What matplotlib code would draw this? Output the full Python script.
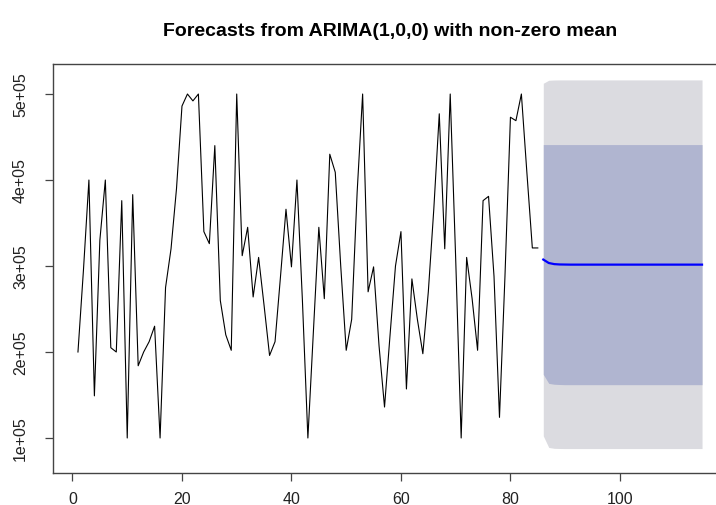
import numpy as np
import matplotlib.pyplot as plt

plt.rcParams['font.family'] = ['Liberation Sans', 'DejaVu Sans']

# observed series (t = 1..85)
series = [200000, 295000, 400000, 149000, 330000, 400000, 205000, 200000, 376000, 100000,
          383000, 184000, 200000, 212000, 230000, 100000, 275000, 320000, 390000, 486000,
          500000, 492000, 500000, 340000, 326000, 440000, 260000, 220000, 202000, 500000,
          312000, 345000, 264000, 310000, 254000, 196000, 212000, 288000, 366000, 299000,
          400000, 260000, 100000, 223000, 345000, 262000, 430000, 409000, 300000, 202000,
          238000, 386000, 500000, 270000, 299000, 207000, 136000, 219000, 300000, 340000,
          157000, 285000, 238000, 198000, 270000, 366000, 477000, 320000, 500000, 308000,
          100000, 310000, 262000, 202000, 376000, 381000, 288000, 124000, 288000, 473000,
          469000, 500000, 409000, 321000, 321000]

# forecast, h = 1..30 (t = 86..115)
fc_mean = [307500, 303500, 302200, 301800, 301700, 301600, 301600, 301600, 301600, 301600,
           301600, 301600, 301600, 301600, 301600, 301600, 301600, 301600, 301600, 301600,
           301600, 301600, 301600, 301600, 301600, 301600, 301600, 301600, 301600, 301600]
lo80 = [174000, 163500, 162500, 162200, 162000, 162000, 162000, 162000, 162000, 162000,
        162000, 162000, 162000, 162000, 162000, 162000, 162000, 162000, 162000, 162000,
        162000, 162000, 162000, 162000, 162000, 162000, 162000, 162000, 162000, 162000]
hi80 = [441200, 441200, 441200, 441200, 441200, 441200, 441200, 441200, 441200, 441200,
        441200, 441200, 441200, 441200, 441200, 441200, 441200, 441200, 441200, 441200,
        441200, 441200, 441200, 441200, 441200, 441200, 441200, 441200, 441200, 441200]
lo95 = [102500, 89000, 88000, 87800, 87700, 87700, 87700, 87700, 87700, 87700,
        87700, 87700, 87700, 87700, 87700, 87700, 87700, 87700, 87700, 87700,
        87700, 87700, 87700, 87700, 87700, 87700, 87700, 87700, 87700, 87700]
hi95 = [512500, 516000, 516300, 516400, 516400, 516400, 516400, 516400, 516400, 516400,
        516400, 516400, 516400, 516400, 516400, 516400, 516400, 516400, 516400, 516400,
        516400, 516400, 516400, 516400, 516400, 516400, 516400, 516400, 516400, 516400]

t_obs = np.arange(1, len(series) + 1)
t_fc = np.arange(len(series) + 1, len(series) + 1 + len(fc_mean))

fig = plt.figure(figsize=(7.16, 5.06), dpi=100)
# axes box runs past the right edge like the original (cropped) image
ax = fig.add_axes([53 / 716, (506 - 474) / 506, (727 - 53) / 716, (474 - 65) / 506])

ax.fill_between(t_fc, lo95, hi95, color='#dbdbe0', linewidth=0)
ax.fill_between(t_fc, lo80, hi80, color='#b0b5d0', linewidth=0)
ax.plot(t_obs, series, color='black', lw=0.8)
ax.plot(t_fc, fc_mean, color='#0000ff', lw=1.6)

ax.set_xlim(-3.56, 119.56)
ax.set_ylim(59300, 534900)
ax.set_xticks([0, 20, 40, 60, 80, 100])
ax.set_yticks([100000, 200000, 300000, 400000, 500000])
ax.set_yticklabels(['1e+05', '2e+05', '3e+05', '4e+05', '5e+05'], rotation=90, va='center')

for s in ax.spines.values():
    s.set_color('#444444')
    s.set_linewidth(1.0)
ax.tick_params(axis='both', length=6, width=0.9, color='#444444', labelsize=11.5, labelcolor='#222222')
ax.tick_params(axis='x', pad=7)
ax.tick_params(axis='y', pad=12)

fig.text(390 / 716, 1 - 31 / 506, 'Forecasts from ARIMA(1,0,0) with non-zero mean',
         ha='center', va='center', fontsize=14, fontweight='bold')

fig.savefig('out.png', dpi=100)
